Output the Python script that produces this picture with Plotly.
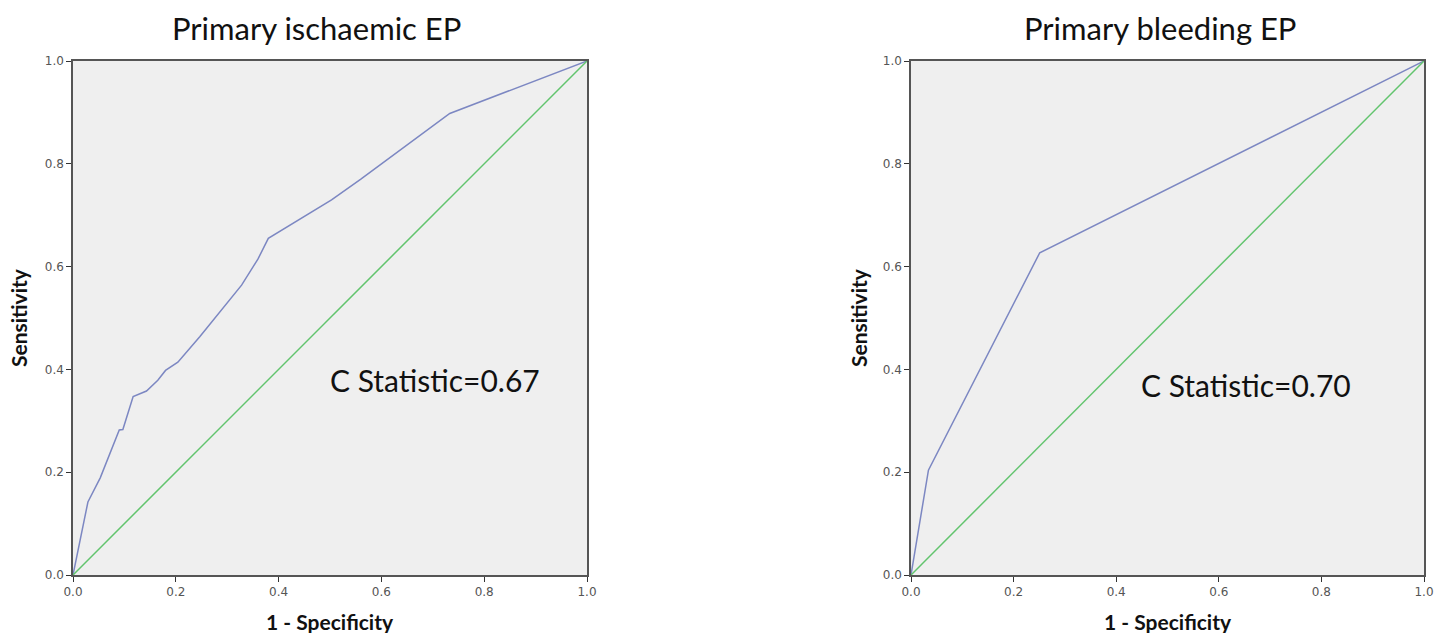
import plotly.graph_objects as go

# Data
isch_fpr = [0.0, 0.029, 0.053, 0.090, 0.097, 0.117, 0.143, 0.165, 0.180, 0.204, 0.247, 0.328, 0.360, 0.380, 0.503, 0.560, 0.733, 1.0]
isch_tpr = [0.0, 0.142, 0.189, 0.282, 0.283, 0.347, 0.358, 0.379, 0.398, 0.414, 0.464, 0.564, 0.615, 0.655, 0.730, 0.770, 0.898, 1.0]
bleed_fpr = [0.0, 0.034, 0.251, 1.0]
bleed_tpr = [0.0, 0.204, 0.627, 1.0]
ref_line = [0.0, 1.0]
titles = ["Primary ischaemic EP", "Primary bleeding EP"]
c_stats = ["C Statistic=0.67", "C Statistic=0.70"]
tick_vals = [0.0, 0.2, 0.4, 0.6, 0.8, 1.0]
tick_text = ["0.0", "0.2", "0.4", "0.6", "0.8", "1.0"]

BLUE = "#7c87c2"
GREEN = "#62c46e"

fig = go.Figure()

fig.add_trace(go.Scatter(x=isch_fpr, y=isch_tpr, mode="lines", line=dict(color=BLUE, width=1.5), xaxis="x", yaxis="y", showlegend=False))
fig.add_trace(go.Scatter(x=ref_line, y=ref_line, mode="lines", line=dict(color=GREEN, width=1.5), xaxis="x", yaxis="y", showlegend=False))
fig.add_trace(go.Scatter(x=bleed_fpr, y=bleed_tpr, mode="lines", line=dict(color=BLUE, width=1.5), xaxis="x2", yaxis="y2", showlegend=False))
fig.add_trace(go.Scatter(x=ref_line, y=ref_line, mode="lines", line=dict(color=GREEN, width=1.5), xaxis="x2", yaxis="y2", showlegend=False))

ax_common = dict(
    range=[0, 1], tickmode="array", tickvals=tick_vals, ticktext=tick_text,
    showgrid=False, zeroline=False, showline=True, mirror=True, automargin=False,
    linecolor="#555555", linewidth=1.5, ticks="outside", ticklen=5, tickcolor="#333333",
    tickfont=dict(family="DejaVu Sans", size=12, color="#555555"),
    fixedrange=True,
)

Y0, Y1 = (633 - 575) / 633, (633 - 61) / 633

fig.update_layout(
    width=1450, height=633,
    margin=dict(l=0, r=0, t=0, b=0),
    paper_bgcolor="white",
    plot_bgcolor="#efefef",
    xaxis=dict(ax_common, domain=[73 / 1450, 587 / 1450], anchor="y"),
    yaxis=dict(ax_common, domain=[Y0, Y1], anchor="x"),
    xaxis2=dict(ax_common, domain=[911 / 1450, 1424 / 1450], anchor="y2"),
    yaxis2=dict(ax_common, domain=[Y0, Y1], anchor="x2"),
)

title_font = dict(family="Lato", size=31, color="#111111")
for i, xc in enumerate([316 / 1450, 1160 / 1450]):
    fig.add_annotation(text=titles[i], xref="paper", yref="paper", x=xc, y=1 - 28 / 633,
                       showarrow=False, font=title_font, xanchor="center", yanchor="middle")

axis_font = dict(family="Lato", size=21, color="#111111")
for xr in ["x domain", "x2 domain"]:
    fig.add_annotation(text="<b>1 - Specificity</b>", xref=xr, yref="paper", x=0.5, y=1 - 621 / 633,
                       showarrow=False, font=axis_font, xanchor="center", yanchor="middle")
fig.add_annotation(text="<b>Sensitivity</b>", xref="paper", yref="y domain", x=18 / 1450, y=0.5,
                   showarrow=False, font=axis_font, textangle=-90, xanchor="center", yanchor="middle")
fig.add_annotation(text="<b>Sensitivity</b>", xref="paper", yref="y2 domain", x=858 / 1450, y=0.5,
                   showarrow=False, font=axis_font, textangle=-90, xanchor="center", yanchor="middle")

stat_font = dict(family="Lato", size=30, color="#111111")
fig.add_annotation(text=c_stats[0], xref="paper", yref="paper", x=435 / 1450, y=1 - 380 / 633,
                   showarrow=False, font=stat_font, xanchor="center", yanchor="middle")
fig.add_annotation(text=c_stats[1], xref="paper", yref="paper", x=1246 / 1450, y=1 - 385 / 633,
                   showarrow=False, font=stat_font, xanchor="center", yanchor="middle")

fig.write_html("out.html")
